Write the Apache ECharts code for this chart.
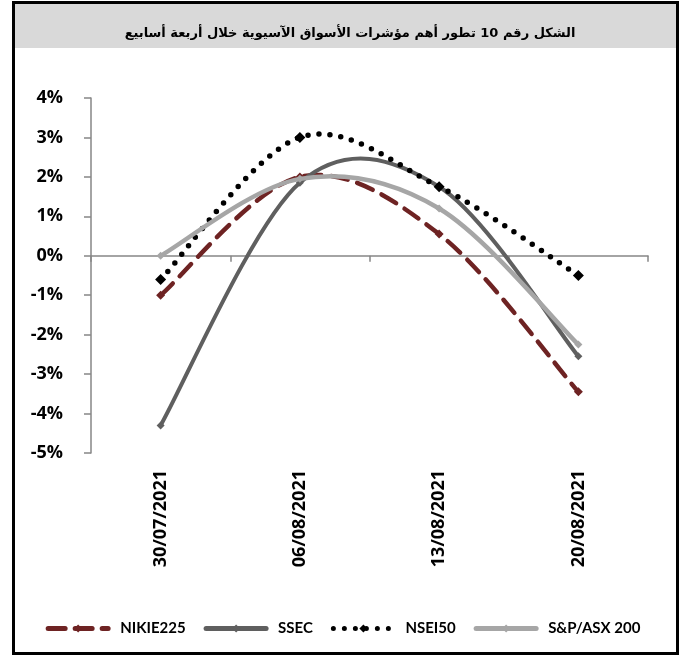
<!DOCTYPE html>
<html>
<head>
<meta charset="utf-8">
<script src="https://cdn.jsdelivr.net/npm/echarts@6/dist/echarts.min.js"></script>
<style>
  html, body { margin: 0; padding: 0; background: #fff; }
  #chart { width: 686px; height: 666px; }
</style>
</head>
<body>
<div id="chart"></div>
<script>
// data (percent)
const dates = ['30/07/2021', '06/08/2021', '13/08/2021', '20/08/2021']
const nikie225 = [-1.0, 2.0, 0.55, -3.45]
const ssec = [-4.3, 1.85, 1.75, -2.55]
const nsei50 = [-0.6, 3.0, 1.75, -0.5]
const spAsx200 = [0.0, 1.95, 1.2, -2.25]
const yTicks = { min: -5, max: 4, step: 1 }

const titleText = 'الشكل رقم 10 تطور أهم مؤشرات الأسواق الآسيوية خلال أربعة أسابيع'

// excel style smoothed curve (lets the curve overshoot between points,
// echarts' own smooth line clamps the control points)
function curveSeries(name, values, color, width, dash, z) {
  return {
    type: 'custom',
    name: name + ' curve',
    xAxisIndex: 0,
    z: z,
    silent: true,
    data: values.map((v, i) => [i, v]),
    encode: { x: 0, y: 1 },
    renderItem: function (params, api) {
      if (params.dataIndex !== 0) return null
      const pts = values.map((v, i) => api.coord([i, v]))
      let d = 'M' + pts[0][0] + ' ' + pts[0][1]
      for (let i = 0; i < pts.length - 1; i++) {
        const p0 = pts[i - 1] || pts[i]
        const p1 = pts[i]
        const p2 = pts[i + 1]
        const p3 = pts[i + 2] || p2
        const c1 = [p1[0] + (p2[0] - p0[0]) / 6, p1[1] + (p2[1] - p0[1]) / 6]
        const c2 = [p2[0] - (p3[0] - p1[0]) / 6, p2[1] - (p3[1] - p1[1]) / 6]
        d += ' C' + c1.join(' ') + ' ' + c2.join(' ') + ' ' + p2.join(' ')
      }
      return {
        type: 'path',
        shape: { pathData: d },
        style: { fill: 'none', stroke: color, lineWidth: width, lineDash: dash, lineCap: 'round' }
      }
    }
  }
}

// markers only, the line itself comes from curveSeries
function markerSeries(name, values, color, symbolSize, z) {
  return {
    name: name,
    type: 'line',
    xAxisIndex: 0,
    data: values,
    symbol: 'diamond',
    symbolSize: symbolSize,
    showAllSymbol: true,
    z: z,
    itemStyle: { color: color },
    lineStyle: { color: color, opacity: 0 },
    emphasis: { disabled: true }
  }
}

const styles = {
  'NIKIE225': { color: '#6e2323', width: 4.5, dash: [17, 10], symbol: 9 },
  'SSEC': { color: '#5f5f5f', width: 4, dash: null, symbol: 8 },
  'NSEI50': { color: '#000000', width: 5.5, dash: [0, 11], symbol: 11 },
  'S&P/ASX 200': { color: '#a6a6a6', width: 4.5, dash: null, symbol: 8 }
}
const seriesData = [
  ['NIKIE225', nikie225],
  ['SSEC', ssec],
  ['NSEI50', nsei50],
  ['S&P/ASX 200', spAsx200]
]

let series = []
let legendData = []
seriesData.forEach(function (s, i) {
  const st = styles[s[0]]
  series.push(curveSeries(s[0], s[1], st.color, st.width, st.dash, 2 + i))
  series.push(markerSeries(s[0], s[1], st.color, st.symbol, 2 + i))
  legendData.push({
    name: s[0],
    lineStyle: { color: st.color, width: 5, type: st.dash || 'solid', opacity: 1, cap: 'round' }
  })
})

const chart = echarts.init(document.getElementById('chart'))

chart.setOption({
  animation: false,
  graphic: [
    // outer frame and grey title band
    {
      type: 'rect', z: 0,
      shape: { x: 14, y: 3, width: 663, height: 45 },
      style: { fill: '#d9d9d9' }
    },
    {
      type: 'rect', z: 1,
      shape: { x: 13.5, y: 2.5, width: 664, height: 651 },
      style: { fill: null, stroke: '#000', lineWidth: 3 }
    }
  ],
  title: {
    text: titleText,
    left: 345,
    textAlign: 'center',
    top: 22,
    textStyle: { fontFamily: 'DejaVu Sans', fontWeight: 'bold', fontSize: 13, color: '#000' }
  },
  legend: {
    bottom: 25,
    left: 'center',
    itemWidth: 60,
    itemHeight: 10,
    itemGap: 18,
    formatter: '{t|{name}}',
    textStyle: {
      fontFamily: 'Lato', fontWeight: 'bold', fontSize: 15, color: '#000',
      rich: {
        t: { fontFamily: 'Lato', fontWeight: 'bold', fontSize: 15, color: '#000', padding: [0, 0, 0, 7] }
      }
    },
    data: legendData
  },
  grid: { left: 91, right: 38, top: 98, bottom: 213 },
  xAxis: [
    {
      type: 'category',
      data: dates,
      axisLine: { onZero: true, lineStyle: { color: '#868686', width: 1.5 } },
      axisTick: { show: true, length: 6, lineStyle: { color: '#868686', width: 1.5 } },
      axisLabel: { show: false }
    },
    {
      type: 'category',
      data: dates,
      position: 'bottom',
      axisLine: { show: false, onZero: false },
      axisTick: { show: false },
      axisLabel: {
        rotate: 90,
        margin: 17,
        fontFamily: 'Open Sans',
        fontWeight: 'bold',
        fontSize: 18,
        color: '#000'
      }
    }
  ],
  yAxis: {
    type: 'value',
    min: yTicks.min,
    max: yTicks.max,
    interval: yTicks.step,
    axisLine: { show: true, lineStyle: { color: '#868686', width: 1.5 } },
    axisTick: { show: true, length: 7, lineStyle: { color: '#868686', width: 1.5 } },
    splitLine: { show: false },
    axisLabel: {
      formatter: '{value}%',
      margin: 28,
      fontFamily: 'Open Sans',
      fontWeight: 'bold',
      fontSize: 18,
      color: '#000'
    }
  },
  series: series
})
</script>
</body>
</html>
